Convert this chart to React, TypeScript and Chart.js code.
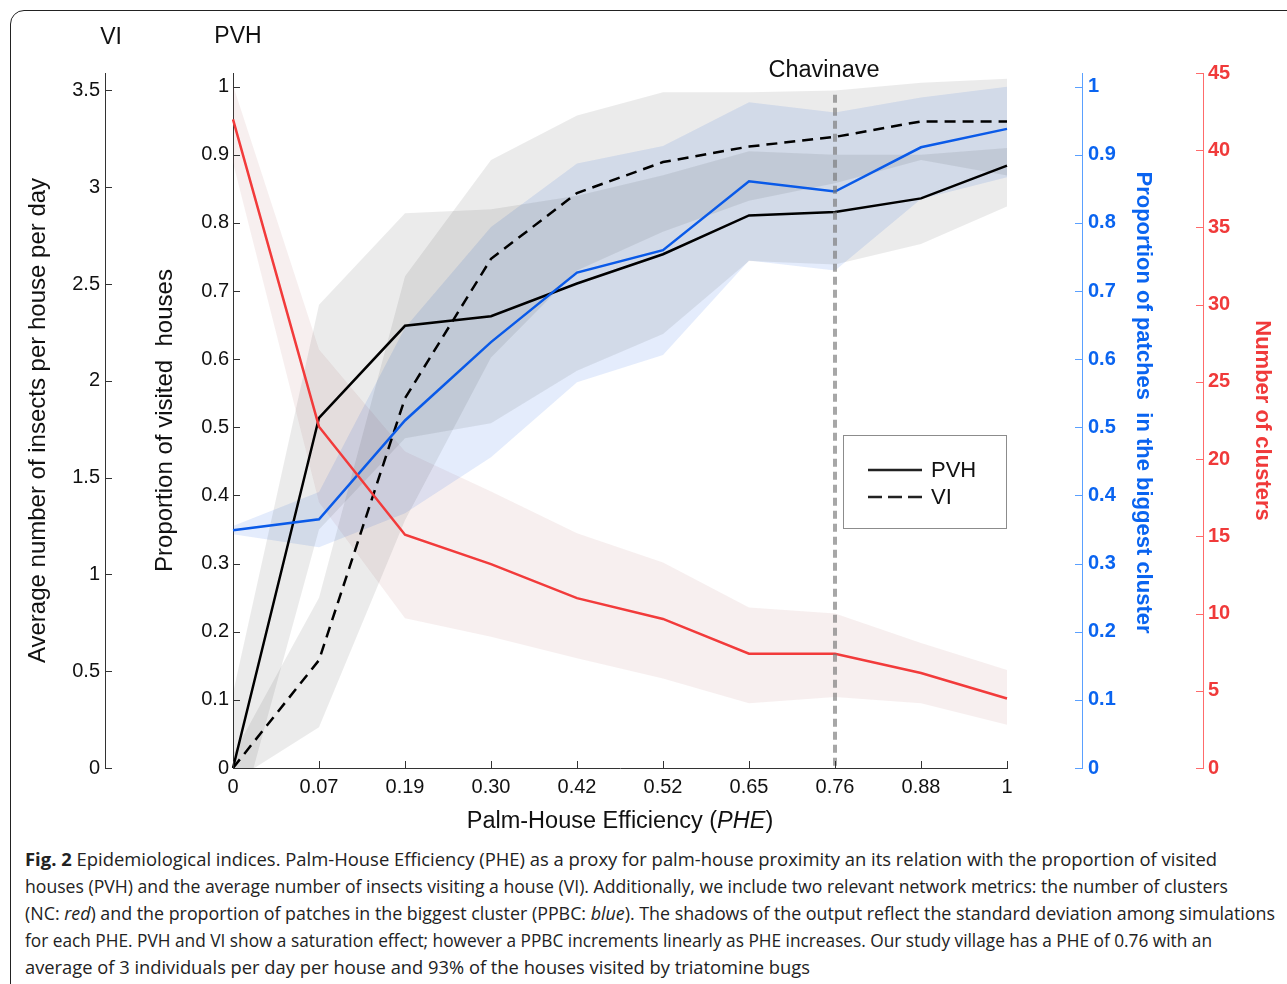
import React, { useEffect, useLayoutEffect, useRef } from 'react';
import { Chart, registerables } from 'chart.js';

Chart.register(...registerables);

const FONT = '"Liberation Sans", Arial, Helvetica, sans-serif';
const CAPTION_FONT = '"Open Sans", "DejaVu Sans", sans-serif';

// ---- data ----
const PHE_LABELS = ['0', '0.07', '0.19', '0.30', '0.42', '0.52', '0.65', '0.76', '0.88', '1'];

const PVH_MEAN = [0, 0.514, 0.649, 0.663, 0.711, 0.754, 0.811, 0.816, 0.836, 0.884];
const PVH_UPPER = [0.11, 0.68, 0.814, 0.82, 0.84, 0.87, 0.905, 0.9, 0.9, 0.91];
const PVH_LOWER = [-0.11, 0.35, 0.484, 0.506, 0.583, 0.637, 0.744, 0.739, 0.769, 0.824];

const VI_MEAN = [0, 0.557, 1.91, 2.63, 2.97, 3.13, 3.21, 3.26, 3.34, 3.34];
const VI_UPPER = [0.07, 0.88, 2.54, 3.14, 3.37, 3.49, 3.49, 3.5, 3.54, 3.56];
const VI_LOWER = [-0.07, 0.21, 1.28, 2.12, 2.57, 2.77, 2.93, 3.02, 3.14, 3.06];

const PPBC_MEAN = [0.349, 0.365, 0.51, 0.625, 0.727, 0.76, 0.861, 0.846, 0.911, 0.938];
const PPBC_UPPER = [0.355, 0.405, 0.646, 0.794, 0.887, 0.913, 0.977, 0.962, 0.984, 1.0];
const PPBC_LOWER = [0.343, 0.324, 0.374, 0.456, 0.566, 0.606, 0.745, 0.73, 0.835, 0.867];

const NC_MEAN = [42, 22.1, 15.1, 13.2, 11.0, 9.65, 7.4, 7.4, 6.15, 4.5];
const NC_UPPER = [44.2, 27.1, 20.5, 17.9, 15.2, 13.3, 10.4, 10.0, 8.1, 6.35];
const NC_LOWER = [39.2, 17.2, 9.7, 8.5, 7.1, 5.8, 4.2, 4.6, 4.2, 2.8];

const PVH_MAX = 1.02;
const VI_MAX = 3.59;
const PPBC_MAX = 1.02;
const NC_MAX = 45;

const CHAVINAVE_INDEX = 7;
const CHAVINAVE_TOP = 0.988;
const CHAVINAVE_LABEL = 'Chavinave';
const PPBC_TITLE = 'Proportion of patches  in the biggest cluster';

const CAPTION_LINE_WIDTHS = [1192, 1203, 1250, 1187, 785];

// ---- colours ----
const BLACK_AXIS = '#333333';
const BLUE_AXIS = '#5aa0ff';
const RED_AXIS = '#ff6b6b';
const BLUE_TEXT = '#0a64f0';
const RED_TEXT = '#f03a3a';

const fmt1 = (v: any) => String(Math.round(Number(v) * 10) / 10);

const tickMarks = {
  id: 'tickMarks',
  afterDraw(chart: any) {
    const ctx = chart.ctx;
    const len = 7;
    const defs: [string, string][] = [
      ['vi', BLACK_AXIS],
      ['pvh', BLACK_AXIS],
      ['ppbc', BLUE_AXIS],
      ['nc', RED_AXIS],
    ];
    ctx.save();
    ctx.lineWidth = 1;
    defs.forEach(([id, col]) => {
      const s = chart.scales[id];
      if (!s) return;
      const left = s.position === 'left';
      const x0 = left ? s.right : s.left;
      const dir = left ? 1 : -1;
      ctx.strokeStyle = col;
      s.ticks.forEach((t: any) => {
        const y = Math.round(s.getPixelForValue(t.value)) + 0.5;
        ctx.beginPath();
        ctx.moveTo(x0, y);
        ctx.lineTo(x0 + dir * len, y);
        ctx.stroke();
      });
    });
    const xs = chart.scales.x;
    ctx.strokeStyle = BLACK_AXIS;
    xs.ticks.forEach((_t: any, i: number) => {
      const x = Math.round(xs.getPixelForTick(i)) + 0.5;
      ctx.beginPath();
      ctx.moveTo(x, xs.top);
      ctx.lineTo(x, xs.top - len);
      ctx.stroke();
    });
    // blue axis title
    const s = chart.scales.ppbc;
    ctx.translate(s.right - 60, (s.top + s.bottom) / 2 - 18);
    ctx.rotate(Math.PI / 2);
    ctx.fillStyle = BLUE_TEXT;
    ctx.font = `bold 22px ${FONT}`;
    ctx.textAlign = 'center';
    ctx.textBaseline = 'middle';
    ctx.fillText(PPBC_TITLE, 0, 0);
    ctx.restore();
  },
};

const chavinave = {
  id: 'chavinave',
  afterDatasetsDraw(chart: any) {
    const ctx = chart.ctx;
    const x = chart.scales.x.getPixelForValue(CHAVINAVE_INDEX);
    const yTop = chart.scales.pvh.getPixelForValue(CHAVINAVE_TOP);
    const yBot = chart.scales.pvh.getPixelForValue(0);
    ctx.save();
    ctx.strokeStyle = 'rgba(120,120,120,0.65)';
    ctx.lineWidth = 4;
    ctx.setLineDash([8, 5]);
    ctx.beginPath();
    ctx.moveTo(x, yTop);
    ctx.lineTo(x, yBot);
    ctx.stroke();
    ctx.setLineDash([]);
    ctx.fillStyle = '#111';
    ctx.font = `23.5px ${FONT}`;
    ctx.textAlign = 'center';
    ctx.textBaseline = 'alphabetic';
    ctx.fillText(CHAVINAVE_LABEL, x - 11, chart.chartArea.top + 4);
    ctx.restore();
  },
};

const legendBox = {
  id: 'legendBox',
  afterDraw(chart: any) {
    const ctx = chart.ctx;
    const ca = chart.chartArea;
    const w = 164;
    const h = 94;
    const x = ca.right - w;
    const y = ca.top + 362;
    ctx.save();
    ctx.fillStyle = '#ffffff';
    ctx.fillRect(x, y, w, h);
    ctx.strokeStyle = '#8c8c8c';
    ctx.lineWidth = 1;
    ctx.strokeRect(x + 0.5, y + 0.5, w - 1, h - 1);
    const items = chart.data.datasets.filter((d: any) => d.inLegend);
    items.forEach((d: any, i: number) => {
      const ly = y + 35 + i * 27;
      ctx.strokeStyle = '#222';
      ctx.lineWidth = 2.5;
      ctx.setLineDash(d.legendDash || []);
      ctx.beginPath();
      ctx.moveTo(x + 25, ly);
      ctx.lineTo(x + 79, ly);
      ctx.stroke();
      ctx.setLineDash([]);
      ctx.fillStyle = '#111';
      ctx.font = `22px ${FONT}`;
      ctx.textAlign = 'left';
      ctx.textBaseline = 'middle';
      ctx.fillText(d.label, x + 88, ly + 1);
    });
    ctx.restore();
  },
};

function band(label: string, axis: string, lower: number[], upper: number[], color: string) {
  return [
    {
      label: label + ' lower',
      data: lower,
      yAxisID: axis,
      borderColor: 'transparent',
      borderWidth: 0,
      pointRadius: 0,
      fill: false,
      order: 10,
    },
    {
      label: label + ' upper',
      data: upper,
      yAxisID: axis,
      borderColor: 'transparent',
      borderWidth: 0,
      pointRadius: 0,
      backgroundColor: color,
      fill: '-1',
      order: 10,
    },
  ];
}

export default function App() {
  const ref = useRef<HTMLCanvasElement>(null);
  const capRef = useRef<HTMLDivElement>(null);

  useLayoutEffect(() => {
    const fit = () => {
      const el = capRef.current;
      if (!el) return;
      const spans = el.querySelectorAll('span.capline');
      spans.forEach((node, i) => {
        const sp = node as HTMLElement;
        sp.style.transform = 'none';
        const w = sp.getBoundingClientRect().width;
        if (w > 0) sp.style.transform = `scaleX(${CAPTION_LINE_WIDTHS[i] / w})`;
      });
    };
    fit();
    if ((document as any).fonts && (document as any).fonts.ready) {
      (document as any).fonts.ready.then(fit);
    }
  }, []);

  useEffect(() => {
    const canvas = ref.current;
    if (!canvas) return;
    const tickFont = { family: FONT, size: 20 };
    const chart = new Chart(canvas, {
      type: 'line',
      data: {
        labels: PHE_LABELS,
        datasets: [
          ...band('VI', 'vi', VI_LOWER, VI_UPPER, 'rgba(0,0,0,0.08)'),
          ...band('PVH', 'pvh', PVH_LOWER, PVH_UPPER, 'rgba(0,0,0,0.08)'),
          ...band('PPBC', 'ppbc', PPBC_LOWER, PPBC_UPPER, 'rgba(30,100,230,0.12)'),
          ...band('NC', 'nc', NC_LOWER, NC_UPPER, 'rgba(180,100,100,0.1)'),
          {
            label: 'NC',
            data: NC_MEAN,
            yAxisID: 'nc',
            borderColor: '#f23b3b',
            borderWidth: 2.5,
            pointRadius: 0,
            fill: false,
            order: 1,
          },
          {
            label: 'PPBC',
            data: PPBC_MEAN,
            yAxisID: 'ppbc',
            borderColor: '#0a5ae8',
            borderWidth: 2.5,
            pointRadius: 0,
            fill: false,
            order: 1,
          },
          {
            label: 'PVH',
            data: PVH_MEAN,
            yAxisID: 'pvh',
            borderColor: '#000000',
            borderWidth: 2.5,
            pointRadius: 0,
            fill: false,
            order: 5,
            inLegend: true,
            legendDash: [],
          } as any,
          {
            label: 'VI',
            data: VI_MEAN,
            yAxisID: 'vi',
            borderColor: '#000000',
            borderWidth: 2.5,
            borderDash: [11, 7],
            pointRadius: 0,
            fill: false,
            order: 5,
            inLegend: true,
            legendDash: [14, 6],
          } as any,
        ],
      },
      options: {
        responsive: false,
        animation: false,
        layout: { padding: { top: 73, left: 0, right: 0, bottom: 0 } },
        plugins: {
          legend: { display: false },
          tooltip: { enabled: false },
          filler: { drawTime: 'beforeDatasetsDraw' },
        } as any,
        scales: {
          x: {
            type: 'category',
            offset: false,
            grid: { display: false, drawTicks: false },
            border: { display: true, color: BLACK_AXIS, width: 1 },
            ticks: { font: tickFont, color: '#111', padding: 7, maxRotation: 0, autoSkip: false },
            afterFit: (s: any) => {
              s.height = 72;
            },
          },
          pvh: {
            type: 'linear',
            position: 'left',
            weight: 0,
            min: 0,
            max: PVH_MAX,
            grid: { display: false, drawTicks: false },
            border: { display: true, color: BLACK_AXIS, width: 1 },
            ticks: { stepSize: 0.1, includeBounds: false, callback: fmt1, font: tickFont, color: '#111', padding: 4 },
            title: {
              display: true,
              text: 'Proportion of visited  houses',
              font: { family: FONT, size: 24 },
              color: '#111',
              padding: { top: 46, bottom: 0 },
            },
            afterFit: (s: any) => {
              s.width = 128;
            },
          },
          vi: {
            type: 'linear',
            position: 'left',
            weight: 1,
            min: 0,
            max: VI_MAX,
            grid: { display: false, drawTicks: false },
            border: { display: true, color: BLACK_AXIS, width: 1 },
            ticks: { stepSize: 0.5, includeBounds: false, callback: fmt1, font: tickFont, color: '#111', padding: 5 },
            title: {
              display: true,
              text: 'Average number of insects per house per day',
              font: { family: FONT, size: 24 },
              color: '#111',
              padding: { top: 24, bottom: 0 },
            },
            afterFit: (s: any) => {
              s.width = 105;
            },
          },
          spacer: {
            type: 'linear',
            position: 'right',
            weight: 0,
            display: true,
            grid: { display: false, drawTicks: false },
            border: { display: false },
            ticks: { display: false },
            afterFit: (s: any) => {
              s.width = 75;
            },
          },
          ppbc: {
            type: 'linear',
            position: 'right',
            weight: 1,
            min: 0,
            max: PPBC_MAX,
            grid: { display: false, drawTicks: false },
            border: { display: true, color: BLUE_AXIS, width: 1 },
            ticks: {
              stepSize: 0.1,
              includeBounds: false,
              callback: fmt1,
              font: { family: FONT, size: 20, weight: 'bold' },
              color: BLUE_TEXT,
              padding: 6,
            },
            title: { display: false },
            afterFit: (s: any) => {
              s.width = 121;
            },
          },
          nc: {
            type: 'linear',
            position: 'right',
            weight: 2,
            min: 0,
            max: NC_MAX,
            grid: { display: false, drawTicks: false },
            border: { display: true, color: RED_AXIS, width: 1 },
            ticks: {
              stepSize: 5,
              includeBounds: false,
              font: { family: FONT, size: 20, weight: 'bold' },
              color: RED_TEXT,
              padding: 5,
            },
            title: {
              display: true,
              text: 'Number of clusters',
              font: { family: FONT, size: 22, weight: 'bold' },
              color: RED_TEXT,
              padding: { top: 12, bottom: 0 },
            },
            afterFit: (s: any) => {
              s.width = 84;
            },
          },
        } as any,
      },
      plugins: [chavinave, tickMarks, legendBox],
    } as any);
    return () => chart.destroy();
  }, []);

  const abs = (o: any) => ({ position: 'absolute', ...o } as React.CSSProperties);
  const lineStyle: React.CSSProperties = { display: 'inline-block', transformOrigin: 'left center', whiteSpace: 'nowrap' };

  return (
    <div style={abs({ left: 0, top: 0, width: 1287, height: 984, overflow: 'hidden', background: '#fff', fontFamily: FONT })}>
      <div
        style={abs({
          left: 10,
          top: 10,
          width: 1310,
          height: 1010,
          border: '1.5px solid #222',
          borderRadius: 14,
          boxSizing: 'border-box',
        })}
      />
      <canvas ref={ref} width={1287} height={840} style={abs({ left: 0, top: 0, width: 1287, height: 840 })} />
      <div style={abs({ left: 86, top: 22, width: 50, textAlign: 'center', fontSize: 23, lineHeight: '28px', color: '#111' })}>VI</div>
      <div style={abs({ left: 206, top: 21, width: 64, textAlign: 'center', fontSize: 23, lineHeight: '28px', color: '#111' })}>PVH</div>
      <div style={abs({ left: 233, top: 806, width: 774, textAlign: 'center', fontSize: 23.5, lineHeight: '28px', color: '#111' })}>
        Palm-House Efficiency (<i>PHE</i>)
      </div>
      <div
        ref={capRef}
        style={abs({
          left: 25,
          top: 845,
          width: 1262,
          fontFamily: CAPTION_FONT,
          fontSize: 18.5,
          lineHeight: '27px',
          color: '#222',
          whiteSpace: 'nowrap',
        })}
      >
        <div>
          <span className="capline" style={lineStyle}>
            <b>Fig. 2</b> Epidemiological indices. Palm-House Efficiency (PHE) as a proxy for palm-house proximity an its relation with the proportion of visited
          </span>
        </div>
        <div>
          <span className="capline" style={lineStyle}>
            houses (PVH) and the average number of insects visiting a house (VI). Additionally, we include two relevant network metrics: the number of clusters
          </span>
        </div>
        <div>
          <span className="capline" style={lineStyle}>
            (NC: <i>red</i>) and the proportion of patches in the biggest cluster (PPBC: <i>blue</i>). The shadows of the output reflect the standard deviation among simulations
          </span>
        </div>
        <div>
          <span className="capline" style={lineStyle}>
            for each PHE. PVH and VI show a saturation effect; however a PPBC increments linearly as PHE increases. Our study village has a PHE of 0.76 with an
          </span>
        </div>
        <div>
          <span className="capline" style={lineStyle}>
            average of 3 individuals per day per house and 93% of the houses visited by triatomine bugs
          </span>
        </div>
      </div>
    </div>
  );
}
